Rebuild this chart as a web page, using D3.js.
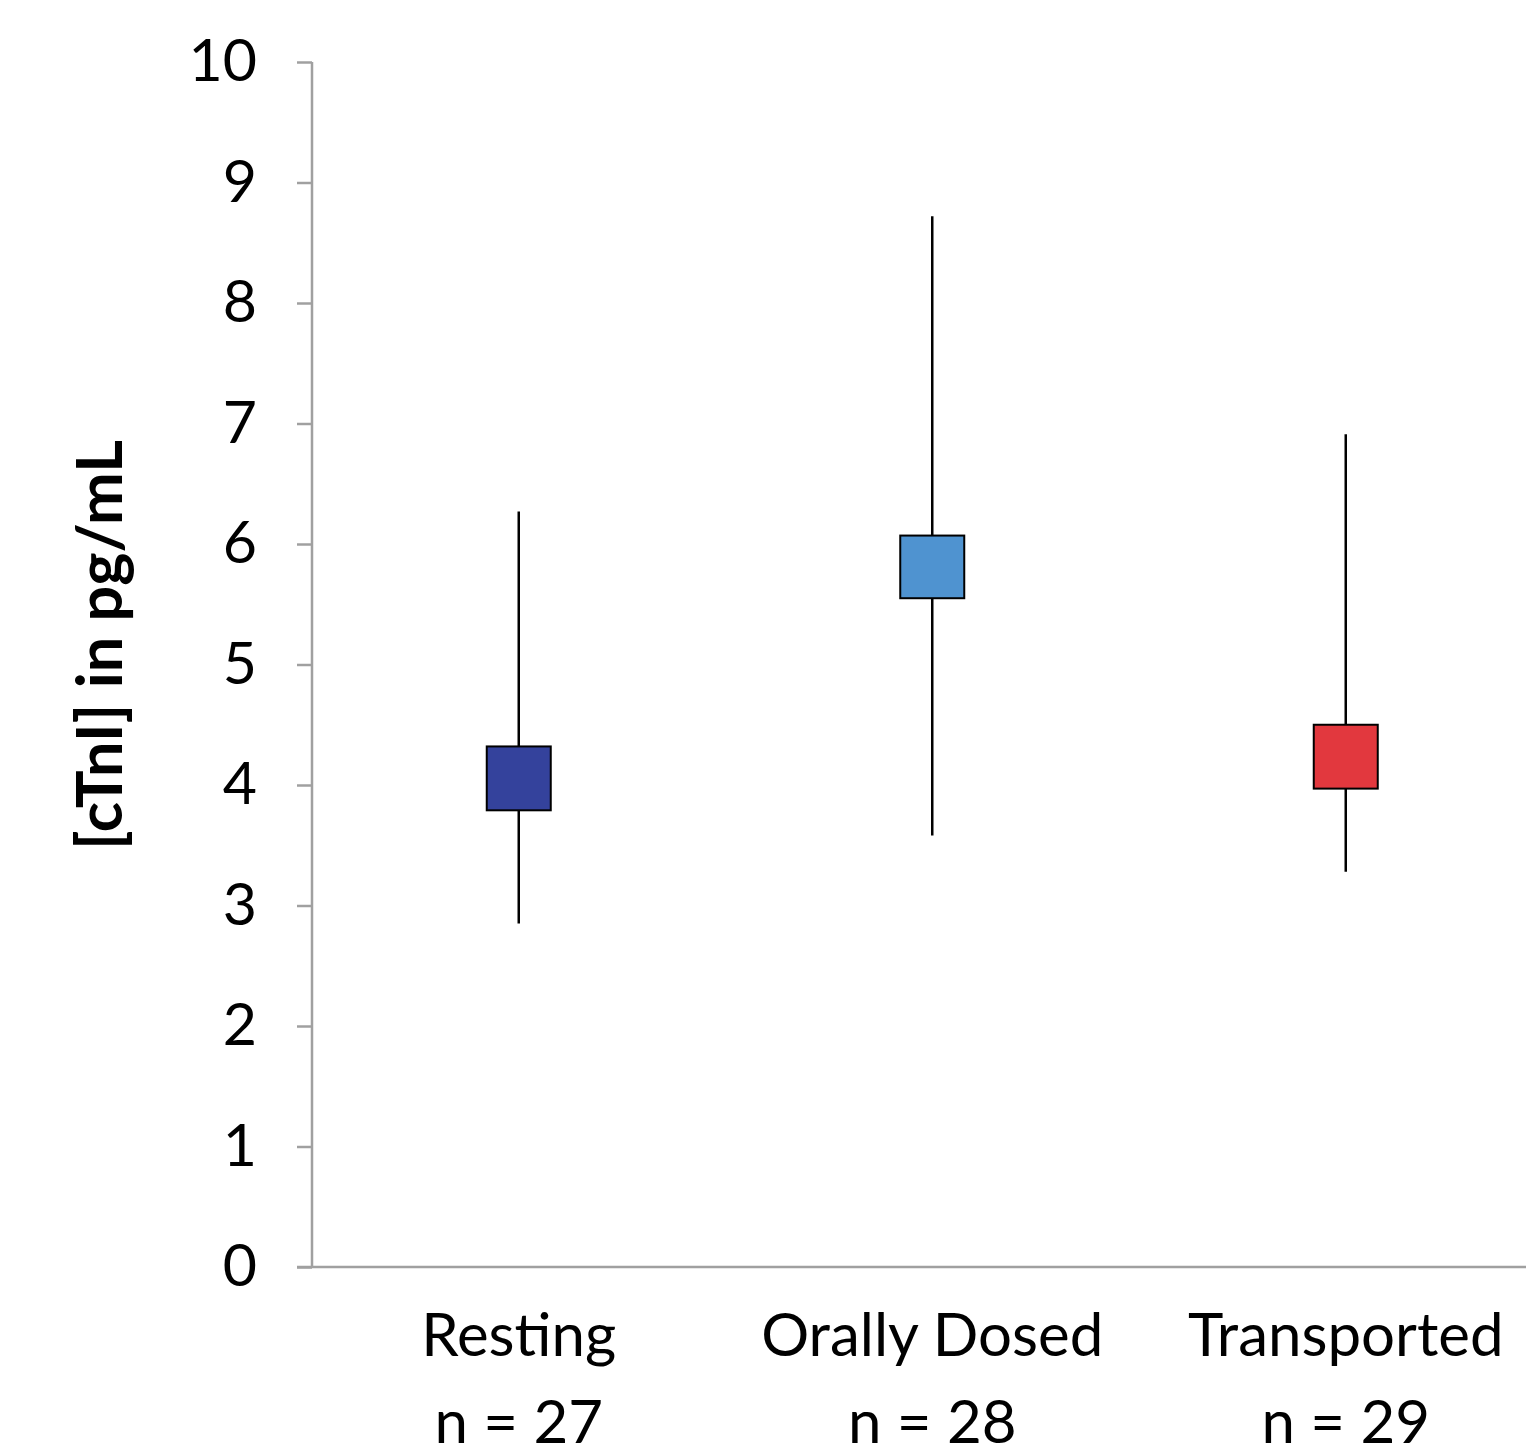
<!DOCTYPE html>
<html>
<head>
<meta charset="utf-8">
<script src="https://cdn.jsdelivr.net/npm/d3@7"></script>
<style>
  body { margin: 0; background: #fff; }
  text { font-family: Lato, "Open Sans", sans-serif; }
</style>
</head>
<body>
<div id="chart"></div>
<script>
const categories = ['Resting', 'Orally Dosed', 'Transported'];
const counts = ['n = 27', 'n = 28', 'n = 29'];
const highs = [6.27, 8.72, 6.91];
const lows = [2.85, 3.58, 3.28];
const boxTops = [4.32, 6.07, 4.50];
const boxBottoms = [3.79, 5.55, 3.97];
const colors = ['#34429c', '#4f93d0', '#e2383e'];
const yTicks = [0, 1, 2, 3, 4, 5, 6, 7, 8, 9, 10];

const data = categories.map((c, i) => ({
    name: c, n: counts[i], high: highs[i], low: lows[i],
    top: boxTops[i], bottom: boxBottoms[i], color: colors[i]
}));

const svg = d3.select('#chart').append('svg').attr('width', 1526).attr('height', 1453);

const margin = {top: 62, left: 312},
      height = 1267 - margin.top,
      width = 413.5 * 3;

const x = d3.scaleBand().domain(categories).range([0, width]);
const y = d3.scaleLinear().domain([0, 10]).range([height, 0]);

const g = svg.append('g')
    .attr('transform', `translate(${margin.left},${margin.top})`);

// y axis
const yAxis = g.append('g')
    .call(d3.axisLeft(y).tickValues(yTicks).tickSize(15).tickPadding(40));
yAxis.select('.domain').attr('stroke', '#a0a0a0').attr('stroke-width', 2.5)
    .attr('d', `M0,${height}V0`);
yAxis.selectAll('.tick line').attr('stroke', '#a0a0a0').attr('stroke-width', 2.5);
yAxis.selectAll('.tick text')
    .attr('fill', '#000')
    .style('font-size', '59px')
    .style('font-family', 'Lato, "Open Sans", sans-serif');

// x axis line
g.append('line')
    .attr('x1', -15).attr('x2', width)
    .attr('y1', height).attr('y2', height)
    .attr('stroke', '#a0a0a0').attr('stroke-width', 2.5);

// category labels
const labels = g.selectAll('.cat').data(data).enter().append('g')
    .attr('transform', d => `translate(${x(d.name) + x.bandwidth() / 2},${height})`);
labels.append('text')
    .attr('y', 89).attr('text-anchor', 'middle')
    .style('font-size', '60px').text(d => d.name);
labels.append('text')
    .attr('y', 176).attr('text-anchor', 'middle')
    .style('font-size', '60px').text(d => d.n);

// whiskers
g.selectAll('.whisker').data(data).enter().append('line')
    .attr('x1', d => x(d.name) + x.bandwidth() / 2)
    .attr('x2', d => x(d.name) + x.bandwidth() / 2)
    .attr('y1', d => y(d.high))
    .attr('y2', d => y(d.low))
    .attr('stroke', '#000').attr('stroke-width', 2.5);

// boxes
const boxW = 64;
g.selectAll('.box').data(data).enter().append('rect')
    .attr('x', d => x(d.name) + x.bandwidth() / 2 - boxW / 2)
    .attr('y', d => y(d.top))
    .attr('width', boxW)
    .attr('height', d => y(d.bottom) - y(d.top))
    .attr('fill', d => d.color)
    .attr('stroke', '#000').attr('stroke-width', 2);

// y axis title
svg.append('text')
    .attr('transform', 'translate(122,645) rotate(-90)')
    .attr('text-anchor', 'middle')
    .style('font-size', '63px').style('font-weight', 'bold')
    .text('[cTnI] in pg/mL');
</script>
</body>
</html>
